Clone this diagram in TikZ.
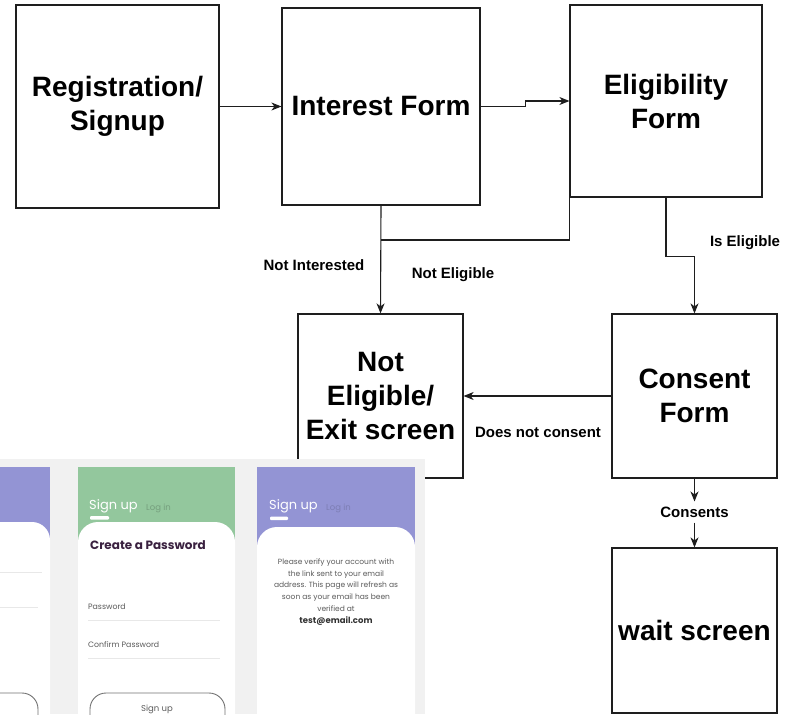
\documentclass[tikz,border=0pt]{standalone}
\usepackage{fontspec}
\setmainfont{Liberation Sans}
\newfontfamily\appfont{Poppins}
\usetikzlibrary{arrows.meta}
\definecolor{linec}{HTML}{1E1E1E}
\definecolor{hdrpurple}{HTML}{9394D4}
\definecolor{hdrgreen}{HTML}{93C79D}
\definecolor{scrbg}{HTML}{F1F1F1}
\definecolor{darkpurple}{HTML}{3A2140}
\definecolor{apptext}{HTML}{5A5A5A}
\definecolor{rulegray}{HTML}{E8E8E8}
\tikzset{
  box/.style={draw=linec, line width=1.2pt, fill=white, align=center,
    font=\fontsize{28}{34}\selectfont\bfseries, inner sep=0pt},
  arr/.style={draw=linec, line width=1.1pt, -{Stealth[length=10pt,width=8pt,inset=3pt]}},
  conn/.style={draw=linec, line width=1.1pt},
  lab/.style={font=\fontsize{15}{18}\selectfont\bfseries, inner sep=0pt},
  hdrtxt/.style={anchor=west, text=white, font=\appfont\fontsize{13}{13}\selectfont, inner sep=0pt},
  logtxt/.style={anchor=west, font=\appfont\fontsize{8.5}{8.5}\selectfont, inner sep=0pt},
  fieldtxt/.style={anchor=west, text=apptext, font=\appfont\fontsize{7.8}{8}\selectfont, inner sep=0pt},
  fieldrule/.style={draw=rulegray, line width=0.8pt},
  btn/.style={draw=black!55, line width=0.9pt, rounded corners=16pt, fill=white},
}
\begin{document}
\begin{tikzpicture}[x=1pt,y=-1pt]
\useasboundingbox (0,0) rectangle (794,714);
\fill[white] (0,0) rectangle (794,714);

% boxes
\node[box, minimum width=203pt, minimum height=203pt] (reg) at (117.5,106.5) {Registration/\\Signup};
\node[box, minimum width=198pt, minimum height=197pt] (int) at (381,106.5) {Interest Form};
\node[box, minimum width=192pt, minimum height=192pt] (elig) at (666,101) {Eligibility\\Form};
\node[box, minimum width=165pt, minimum height=164pt] (ne) at (380.5,396) {Not\\Eligible/\\Exit screen};
\node[box, minimum width=165pt, minimum height=164pt] (cons) at (694.5,396) {Consent\\Form};
\node[box, minimum width=165pt, minimum height=165pt] (wait) at (694.5,630.5) {wait screen};

% labels
\node[lab] (lni) at (314,265) {Not Interested};
\node[lab] (lne) at (453,275) {Not Eligible};
\node[lab] (lie) at (745,243) {Is Eligible};
\node[lab] (ldnc) at (538,432) {Does not consent};
\node[lab, inner ysep=5pt] (lc) at (694.5,512) {Consents};

% connectors
\coordinate (j) at (381,240);
\draw[arr] (reg) -- (int);
\draw[arr] (int.east) -- ++(45,0) |- (elig.west);
\draw[arr] (int.south) -- (ne.north);
\draw[conn] (elig.south west) |- (j);
\draw[arr] (elig.south) -- ++(0,59) -| (cons.north);
\draw[arr] (cons.west) -- (ne.east);
\draw[arr] (cons.south) -- (lc.north);
\draw[arr] (lc.south) -- (wait.north);

% app screenshot
\begin{scope}
\clip (0,459) rectangle (425,714);
\fill[scrbg] (0,459) rectangle (425,714);
% panel 1 (partial)
\fill[hdrpurple] (-108,467) rectangle (50,720);
\fill[white, rounded corners=18pt] (-108,740) -- (-108,522) -- (50,522) -- (50,740);
\draw[fieldrule] (-90,572) -- (42,572);
\draw[fieldrule] (-90,607) -- (38,607);
\draw[btn] (-80,693) rectangle (38,735);
% panel 2
\fill[hdrgreen] (78,467) rectangle (235,720);
\fill[white, rounded corners=20pt] (78,740) -- (78,522) -- (235,522) -- (235,740);
\node[hdrtxt] (s2) at (89,506) {Sign up};
\node[logtxt, text=hdrgreen!80!black] (l2) at (146,508) {Log in};
\fill[white, rounded corners=1pt] (90,516) rectangle (109,519.5);
\node[anchor=west, text=darkpurple, font=\appfont\fontsize{12}{12}\selectfont\bfseries, inner sep=0pt] (cp) at (90,545) {Create a Password};
\node[fieldtxt] (pw) at (88,607) {Password};
\draw[fieldrule] (88,620) -- (220,620);
\node[fieldtxt] (cpw) at (88,645) {Confirm Password};
\draw[fieldrule] (88,658) -- (220,658);
\draw[btn] (90,693) rectangle (225,735);
\node[text=apptext, font=\appfont\fontsize{8.5}{9}\selectfont, inner sep=0pt] (su2) at (157,709) {Sign up};
% panel 3
\fill[hdrpurple] (257,467) rectangle (415,720);
\fill[white, rounded corners=20pt] (257,740) -- (257,527) -- (415,527) -- (415,740);
\node[hdrtxt] (s3) at (269,506) {Sign up};
\node[logtxt, text=hdrpurple!85!black] (l3) at (326,508) {Log in};
\fill[white, rounded corners=1pt] (270,516.5) rectangle (288,520);
\node[align=center, text=apptext, font=\appfont\fontsize{7.5}{11.8}\selectfont, inner sep=0pt] (msg) at (336,585)
  {Please verify your account with\\the link sent to your email\\address. This page will refresh as\\soon as your email has been\\verified at};
\node[text=black!80, font=\appfont\fontsize{8.5}{9}\selectfont\bfseries, inner sep=0pt] (em) at (336,621) {test@email.com};
\end{scope}
\end{tikzpicture}
\end{document}
